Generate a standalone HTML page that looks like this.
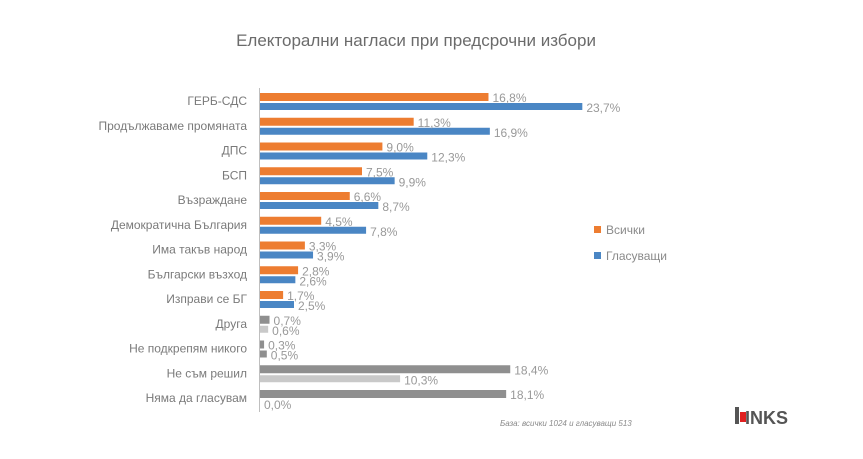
<!DOCTYPE html>
<html><head><meta charset="utf-8"><style>
html,body{margin:0;padding:0;background:#fff;}
svg{display:block;font-family:"Liberation Sans","DejaVu Sans",sans-serif;}
</style></head><body>
<svg id="s" width="863" height="459" viewBox="0 0 863 459" xmlns="http://www.w3.org/2000/svg">
<rect width="863" height="459" fill="#fff"/>
<text x="416" y="46" text-anchor="middle" font-size="17" fill="#6b6b6b">Електорални нагласи при предсрочни избори</text>
<line x1="259.5" y1="88" x2="259.5" y2="412" stroke="#bfbfbf" stroke-width="1"/>
<rect x="594" y="226" width="7" height="7" fill="#ed7d31"/>
<text x="606" y="234" font-size="12" fill="#8a8a8a">Всички</text>
<rect x="594" y="252" width="7" height="7" fill="#4a86c4"/>
<text x="606" y="260" font-size="12" fill="#8a8a8a">Гласуващи</text>
<text x="500" y="426" font-size="8" font-style="italic" fill="#8a8a8a">База: всички 1024 и гласуващи 513</text>
<rect x="735" y="407" width="4" height="17" fill="#555"/>
<rect x="740" y="412" width="6" height="10" fill="#e02020"/>
<text x="745" y="424" font-size="18" font-weight="bold" fill="#555">INKS</text>
<g id="g"></g>
</svg>
<script>
var d=[["ГЕРБ-СДС",16.8,23.7,0],["Продължаваме промяната",11.3,16.9,0],["ДПС",9.0,12.3,0],["БСП",7.5,9.9,0],["Възраждане",6.6,8.7,0],["Демократична България",4.5,7.8,0],["Има такъв народ",3.3,3.9,0],["Български възход",2.8,2.6,0],["Изправи се БГ",1.7,2.5,0],["Друга",0.7,0.6,1],["Не подкрепям никого",0.3,0.5,2],["Не съм решил",18.4,10.3,1],["Няма да гласувам",18.1,0.0,1]];
var s="",k=13.6,x0=260;
d.forEach(function(r,i){
 var c=101+24.75*i;
 var c1=r[3]?"#8f8f8f":"#ed7d31", c2=r[3]==1?"#c9c9c9":(r[3]==2?"#8f8f8f":"#4a86c4");
 var w1=r[1]*k,w2=r[2]*k;
 s+='<text x="247" y="'+(c+4)+'" text-anchor="end" font-size="12" fill="#7a7a7a">'+r[0]+'</text>';
 s+='<rect x="'+x0+'" y="'+(c-8)+'" width="'+w1+'" height="8" fill="'+c1+'"/>';
 s+='<rect x="'+x0+'" y="'+(c+2)+'" width="'+w2+'" height="7" fill="'+c2+'"/>';
 var f=function(v){return v.toFixed(1).replace(".",",")+"%";};
 s+='<text x="'+(x0+w1+4)+'" y="'+(c+1)+'" font-size="12" fill="#999">'+f(r[1])+'</text>';
 s+='<text x="'+(x0+w2+4)+'" y="'+(c+11)+'" font-size="12" fill="#999">'+f(r[2])+'</text>';
});
document.getElementById("g").innerHTML=s;
</script>
</body></html>
